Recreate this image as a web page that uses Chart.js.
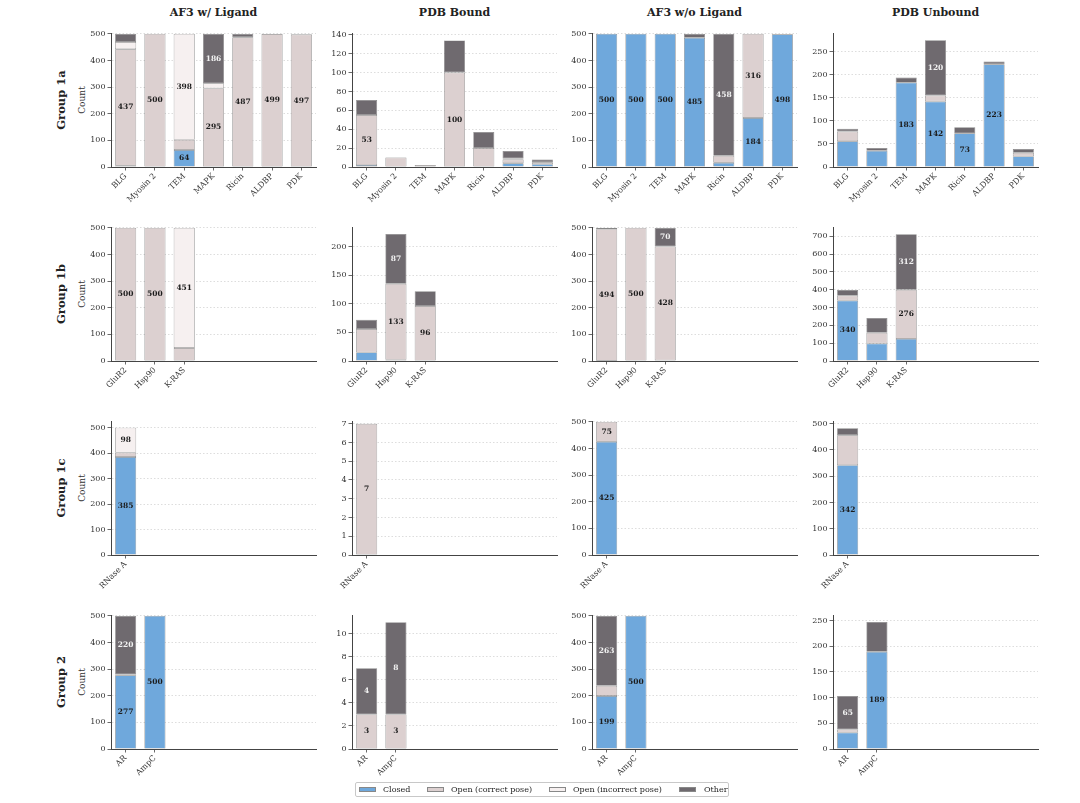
<!DOCTYPE html>
<html>
<head>
<meta charset="utf-8">
<script src="https://cdn.jsdelivr.net/npm/chart.js@4.4.1/dist/chart.umd.min.js"></script>
<style>
  body { margin: 0; background: #fff; }
  #fig { position: relative; width: 1080px; height: 803px; font-family: 'DejaVu Serif', serif; color: #222; }
  canvas { position: absolute; }
  .title { position: absolute; width: 205px; text-align: center; font-weight: bold; font-size: 11px; line-height: 16px; }
  .rowlab { position: absolute; width: 120px; text-align: center; font-weight: bold; font-size: 11.5px; line-height: 14px; transform: rotate(-90deg); }
  .count { position: absolute; width: 60px; text-align: center; font-size: 9px; line-height: 12px; transform: rotate(-90deg); color: #333; }
  #legend { position: absolute; left: 355px; top: 782px; width: 372px; height: 13px; border: 1px solid #c8c8c8; border-radius: 2px;
            font-size: 8px; line-height: 13px; color: #222; }
  #legend span.sw { position: absolute; top: 4px; width: 17px; height: 5px; border: 0.6px solid #888; box-sizing: border-box; }
  #legend span.tx { position: absolute; top: 0; }
</style>
</head>
<body>
<div id="fig"></div>
<script>
// Column and row names
const methods = ['AF3 w/ Ligand', 'PDB Bound', 'AF3 w/o Ligand', 'PDB Unbound'];
const groups = ['Group 1a', 'Group 1b', 'Group 1c', 'Group 2'];
const seriesNames = ['Closed', 'Open (correct pose)', 'Open (incorrect pose)', 'Other'];
const seriesColors = ['#6fa8dc', '#dcd0d0', '#f6f0f0', '#6f6a6f'];

// Categories per group
const cats1a = ['BLG', 'Myosin 2', 'TEM', 'MAPK', 'Ricin', 'ALDBP', 'PDK'];
const cats1b = ['GluR2', 'Hsp90', 'K-RAS'];
const cats1c = ['RNase A'];
const cats2 = ['AR', 'AmpC'];

// Counts: rows = Closed, Open (correct), Open (incorrect), Other
const af3Lig1a = [[5, 0, 64, 0, 0, 0, 0], [437, 500, 38, 295, 487, 499, 497], [27, 0, 398, 19, 0, 0, 0], [31, 0, 0, 186, 13, 1, 3]];
const pdbBound1a = [[2, 0, 0, 0, 0, 4, 3], [53, 10, 2, 100, 20, 4, 2], [0, 0, 0, 0, 0, 1, 0], [16, 0, 0, 34, 17, 8, 3]];
const af3NoLig1a = [[500, 500, 500, 485, 16, 184, 498], [0, 0, 0, 0, 26, 316, 0], [0, 0, 0, 0, 0, 0, 0], [0, 0, 0, 15, 458, 0, 2]];
const pdbUnbound1a = [[56, 35, 183, 142, 73, 223, 23], [21, 0, 0, 13, 0, 0, 8], [0, 0, 0, 0, 0, 0, 0], [6, 6, 11, 120, 13, 6, 8]];

const af3Lig1b = [[0, 0, 0], [500, 500, 49], [0, 0, 451], [0, 0, 0]];
const pdbBound1b = [[15, 2, 0], [41, 133, 96], [0, 0, 0], [16, 87, 26]];
const af3NoLig1b = [[1, 0, 2], [494, 500, 428], [0, 0, 0], [5, 0, 70]];
const pdbUnbound1b = [[340, 98, 124], [27, 60, 276], [0, 0, 0], [32, 83, 312]];

const af3Lig1c = [[385], [17], [98], [0]];
const pdbBound1c = [[0], [7], [0], [0]];
const af3NoLig1c = [[425], [75], [0], [0]];
const pdbUnbound1c = [[342], [114], [0], [26]];

const af3Lig2 = [[277, 500], [3, 0], [0, 0], [220, 0]];
const pdbBound2 = [[0, 0], [3, 3], [0, 0], [4, 8]];
const af3NoLig2 = [[199, 500], [38, 0], [0, 0], [263, 0]];
const pdbUnbound2 = [[32, 189], [6, 0], [0, 0], [65, 58]];

// Y axis limits and tick steps per panel
const yMax = [[500, 141, 500, 289], [500, 233, 500, 748], [523, 7.1, 500, 507], [500, 11.55, 500, 259]];
const yStep = [[100, 20, 100, 50], [100, 50, 100, 100], [100, 1, 100, 100], [100, 2, 100, 50]];

const groupCats = [cats1a, cats1b, cats1c, cats2];
const panels = [
    [af3Lig1a, pdbBound1a, af3NoLig1a, pdbUnbound1a],
    [af3Lig1b, pdbBound1b, af3NoLig1b, pdbUnbound1b],
    [af3Lig1c, pdbBound1c, af3NoLig1c, pdbUnbound1c],
    [af3Lig2, pdbBound2, af3NoLig2, pdbUnbound2]
];

// Layout (axes boxes)
const colLeft = [111, 352, 592, 833];
const rowTop = [33, 227, 421, 615];
const AX_W = 205, AX_H = 134;
const PAD_L = 40, PAD_T = 6, PAD_R = 6, PAD_B = 50;
const SLOTS = 7;
const FONT = "'DejaVu Serif', serif";

// Count labels in the middle of each segment
const barLabels = {
    id: 'barLabels',
    afterDatasetsDraw(chart, args, opts) {
        const ctx = chart.ctx;
        ctx.save();
        ctx.font = 'bold 7.5px ' + FONT;
        ctx.textAlign = 'center';
        ctx.textBaseline = 'middle';
        chart.data.datasets.forEach((ds, i) => {
            const meta = chart.getDatasetMeta(i);
            meta.data.forEach((bar, j) => {
                const v = ds.data[j];
                if (!v || v < opts.min) return;
                const p = bar.getProps(['x', 'y', 'base'], true);
                ctx.fillStyle = i === 3 ? '#f2f2f2' : '#1c1c1c';
                ctx.fillText(String(v), p.x, (p.y + p.base) / 2);
            });
        });
        ctx.restore();
    }
};

const fig = document.getElementById('fig');

function addDiv(cls, text, left, top) {
    const d = document.createElement('div');
    d.className = cls;
    d.textContent = text;
    d.style.left = left + 'px';
    d.style.top = top + 'px';
    fig.appendChild(d);
    return d;
}

// Column titles
methods.forEach((m, c) => addDiv('title', m, colLeft[c], 5));

// Row labels and y titles
groups.forEach((g, r) => {
    const cy = rowTop[r] + AX_H / 2;
    addDiv('rowlab', g, 61 - 60, cy - 7);
    addDiv('count', 'Count', 82 - 30, cy - 6);
});

function makePanel(r, c) {
    const cats = groupCats[r];
    const values = panels[r][c];
    const labels = cats.concat(Array(SLOTS - cats.length).fill(''));
    const max = yMax[r][c], step = yStep[r][c];

    const canvas = document.createElement('canvas');
    const w = AX_W + PAD_L + PAD_R, h = AX_H + PAD_T + PAD_B;
    canvas.width = w;
    canvas.height = h;
    canvas.style.left = (colLeft[c] - PAD_L) + 'px';
    canvas.style.top = (rowTop[r] - PAD_T) + 'px';
    canvas.style.width = w + 'px';
    canvas.style.height = h + 'px';
    fig.appendChild(canvas);

    const datasets = values.map((vals, i) => ({
        label: seriesNames[i],
        data: vals,
        backgroundColor: seriesColors[i],
        borderColor: 'rgba(95, 95, 95, 0.75)',
        borderWidth: 0.7,
        borderSkipped: false,
        barPercentage: 0.72,
        categoryPercentage: 1.0
    }));

    const minLabel = (c === 0 || c === 2) ? 60 : 0.25 * max;

    new Chart(canvas.getContext('2d'), {
        type: 'bar',
        data: { labels: labels, datasets: datasets },
        plugins: [barLabels],
        options: {
            responsive: false,
            animation: false,
            events: [],
            layout: { padding: { left: 0, top: PAD_T, right: PAD_R, bottom: 0 } },
            plugins: {
                legend: { display: false },
                tooltip: { enabled: false },
                barLabels: { min: minLabel }
            },
            scales: {
                x: {
                    stacked: true,
                    afterFit: s => { s.height = PAD_B; },
                    grid: {
                        offset: false,
                        drawOnChartArea: false,
                        drawTicks: true,
                        tickLength: 3.5,
                        tickWidth: 0.8,
                        tickColor: ctx => labels[ctx.index] ? '#444' : 'rgba(0,0,0,0)'
                    },
                    border: { color: '#444', width: 1 },
                    ticks: {
                        autoSkip: false,
                        minRotation: 45,
                        maxRotation: 45,
                        padding: 1,
                        color: '#333',
                        font: { family: FONT, size: 8 }
                    }
                },
                y: {
                    stacked: true,
                    min: 0,
                    max: max,
                    afterFit: s => { s.width = PAD_L; },
                    afterBuildTicks: s => {
                        const t = [];
                        for (let k = 0; k * step <= max + 1e-9; k++) t.push({ value: +(k * step).toFixed(6) });
                        s.ticks = t;
                    },
                    grid: {
                        color: '#d4d4d4',
                        lineWidth: 0.8,
                        drawTicks: true,
                        tickLength: 3.5,
                        tickWidth: 0.8,
                        tickColor: '#444'
                    },
                    border: { color: '#444', width: 1, dash: [1.5, 2] },
                    ticks: {
                        padding: 2,
                        color: '#333',
                        font: { family: FONT, size: 8 }
                    }
                }
            }
        }
    });
}

for (let r = 0; r < groups.length; r++) {
    for (let c = 0; c < methods.length; c++) {
        makePanel(r, c);
    }
}

// Figure legend
const legend = document.createElement('div');
legend.id = 'legend';
fig.appendChild(legend);
const swatchX = [3, 71, 193, 323];
const textX = [27, 95, 217, 348];
seriesNames.forEach((name, i) => {
    const sw = document.createElement('span');
    sw.className = 'sw';
    sw.style.left = swatchX[i] + 'px';
    sw.style.background = seriesColors[i];
    legend.appendChild(sw);
    const tx = document.createElement('span');
    tx.className = 'tx';
    tx.style.left = textX[i] + 'px';
    tx.textContent = name;
    legend.appendChild(tx);
});
</script>
</body>
</html>
